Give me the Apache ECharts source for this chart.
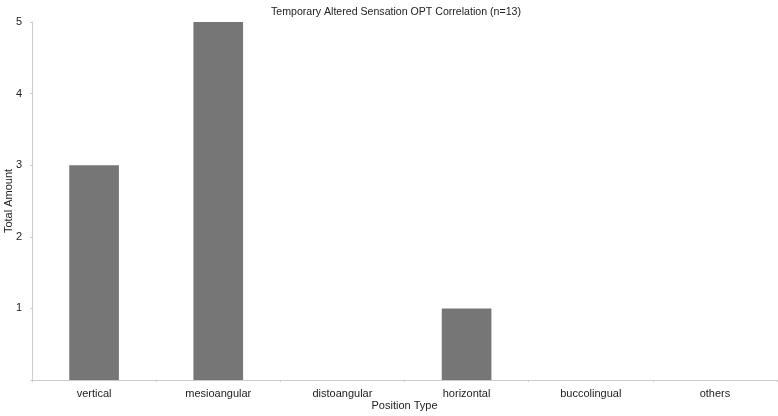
<!DOCTYPE html>
<html><head><meta charset="utf-8">
<script src="https://cdn.jsdelivr.net/npm/echarts@6/dist/echarts.min.js"></script>
<style>html,body{margin:0;padding:0;background:#fff}#c{width:778px;height:416px}</style>
</head><body><div id="c"></div>
<script>
var categories = ['vertical','mesioangular','distoangular','horizontal','buccolingual','others'];
var values = [3,5,0,1,0,0];
var chart = echarts.init(document.getElementById('c'));
var font = 'Liberation Sans, Arial, sans-serif';
chart.setOption({
  animation:false,
  title:{text:'Temporary Altered Sensation OPT Correlation (n=13)',left:266,top:2,
    textStyle:{fontSize:10.6,fontWeight:'normal',color:'#222',fontFamily:font}},
  grid:{left:32,right:1,top:22,bottom:36,containLabel:false,outerBoundsMode:'none'},
  xAxis:{type:'category',data:categories,
    name:'Position Type',nameLocation:'middle',nameGap:20,nameMoveOverlap:false,
    nameTextStyle:{fontSize:11,color:'#222',fontFamily:font},
    axisLine:{lineStyle:{color:'#ccc'}},
    axisTick:{show:true,length:2,lineStyle:{color:'#ccc'}},
    axisLabel:{fontSize:11,color:'#222',fontFamily:font,margin:8}},
  yAxis:{type:'value',min:0,max:5,interval:1,
    name:'Total Amount',nameLocation:'middle',nameGap:18,nameMoveOverlap:false,
    nameTextStyle:{fontSize:11,color:'#222',fontFamily:font},
    axisLine:{show:true,lineStyle:{color:'#ccc'}},
    axisTick:{show:true,length:2,lineStyle:{color:'#ccc'}},
    splitLine:{show:false},
    axisLabel:{fontSize:11,color:'#222',fontFamily:font,margin:10,
      formatter:function(v){return v===0?'':v;}}},
  series:[{type:'bar',data:values,barCategoryGap:'60%',itemStyle:{color:'#767676'}}]
});
</script></body></html>
